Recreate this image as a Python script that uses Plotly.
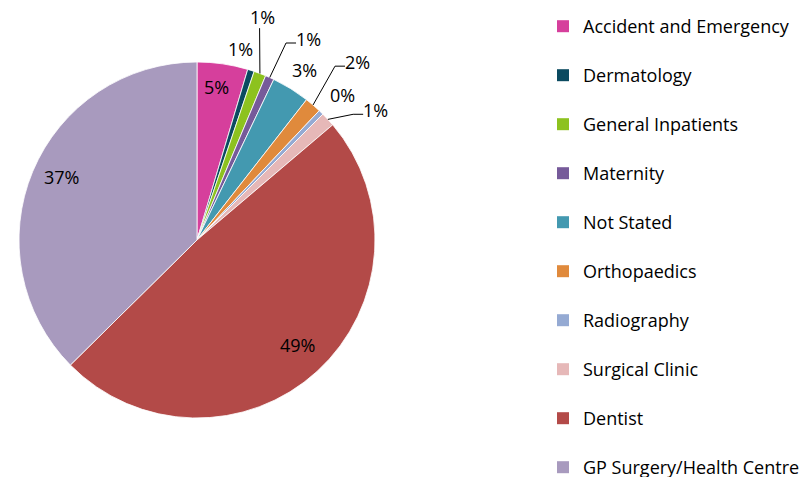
import math
import plotly.graph_objects as go

# ---- data ----
categories = ["Accident and Emergency", "Dermatology", "General Inpatients", "Maternity",
              "Not Stated", "Orthopaedics", "Radiography", "Surgical Clinic", "Dentist",
              "GP Surgery/Health Centre"]
values = [4.6, 0.6, 1.1, 0.8, 3.45, 1.5, 0.45, 1.3, 48.8, 37.4]
colors = ["#D63F9C", "#0B4A60", "#8DC21F", "#765A9A", "#4399B0", "#E08A3C",
          "#95AAD3", "#E6B8B8", "#B34A48", "#A89ABE"]

# ---- label styling (angle offset in degrees, radius factor, leader style) ----
label_dangle = [-0.9, -4.9, -4.3, 4.8, 0.6, 1.3, 1.0, 6.6, -1.1, 2.3]
label_rfac = [0.867, 1.10, 1.305, 1.29, 1.131, 1.344, 1.156, 1.238, 0.815, 0.837]
leader = ["none", "none", "vertical", "elbow", "none", "elbow", "none", "elbow", "none", "none"]

# page body has an 8px margin; figure is sized to the remaining viewport
OFF = 8
W, H = 812 - OFF, 477 - OFF
FONT = "Open Sans"
FS = 18
# pie geometry in viewport pixels
pie_left, pie_right, pie_top, pie_bottom = 19, 375, 62, 418
cx, cy = (pie_left + pie_right) / 2, (pie_top + pie_bottom) / 2
R = (pie_right - pie_left) / 2


def px(x, y):
    return (x - OFF) / W, 1 - (y - OFF) / H


fig = go.Figure()
dx0, dy0 = px(pie_left, pie_bottom)
dx1, dy1 = px(pie_right, pie_top)
fig.add_trace(go.Pie(
    labels=categories, values=values, sort=False, direction="clockwise", rotation=0,
    marker=dict(colors=colors, line=dict(color="white", width=0.8)),
    textinfo="none", hoverinfo="label+percent", showlegend=False,
    domain=dict(x=[dx0, dx1], y=[dy0, dy1]),
))

# legend entries
for i, (c, col) in enumerate(zip(categories, colors)):
    fig.add_trace(go.Scatter(
        x=[None], y=[None], mode="markers", name=c, legendgroup=f"g{i}",
        marker=dict(symbol="square", size=12, color=col), showlegend=True,
    ))

total = sum(values)
cum = 0.0
shapes = []
annotations = []
for i, v in enumerate(values):
    mid = (cum + v / 2) / total * 360.0
    cum += v
    pct = f"{math.floor(v / total * 100 + 0.5)}%"
    la = math.radians(mid + label_dangle[i])
    lx = cx + R * label_rfac[i] * math.sin(la)
    ly = cy - R * label_rfac[i] * math.cos(la)
    ax_, ay_ = px(lx, ly)
    annotations.append(dict(
        x=ax_, y=ay_, xref="paper", yref="paper", text=pct,
        showarrow=False, xanchor="center", yanchor="middle",
        font=dict(family=FONT, size=FS, color="black"),
    ))
    ma = math.radians(mid)
    ex, ey = cx + R * math.sin(ma), cy - R * math.cos(ma)
    if leader[i] == "vertical":
        pts = [(ex, ey), (lx - 3, ly + 11)]
    elif leader[i] == "elbow":
        left = lx - 10
        pts = [(ex, ey), (left - 12, ly + 4), (left - 2, ly + 4)]
    else:
        pts = []
    if pts:
        path = "M " + " L ".join(f"{px(a, b)[0]:.5f},{px(a, b)[1]:.5f}" for a, b in pts)
        shapes.append(dict(type="path", path=path, xref="paper", yref="paper",
                           line=dict(color="black", width=1)))

fig.update_layout(
    width=W, height=H, margin=dict(l=0, r=0, t=0, b=0),
    paper_bgcolor="white", plot_bgcolor="white",
    xaxis=dict(visible=False), yaxis=dict(visible=False),
    shapes=shapes, annotations=annotations,
    legend=dict(x=(543 - OFF) / W, y=1.0, xanchor="left", yanchor="top", traceorder="grouped",
                tracegroupgap=22.6, font=dict(family=FONT, size=FS, color="black"),
                bgcolor="rgba(0,0,0,0)"),
    showlegend=True,
)

fig.write_html("out.html")
